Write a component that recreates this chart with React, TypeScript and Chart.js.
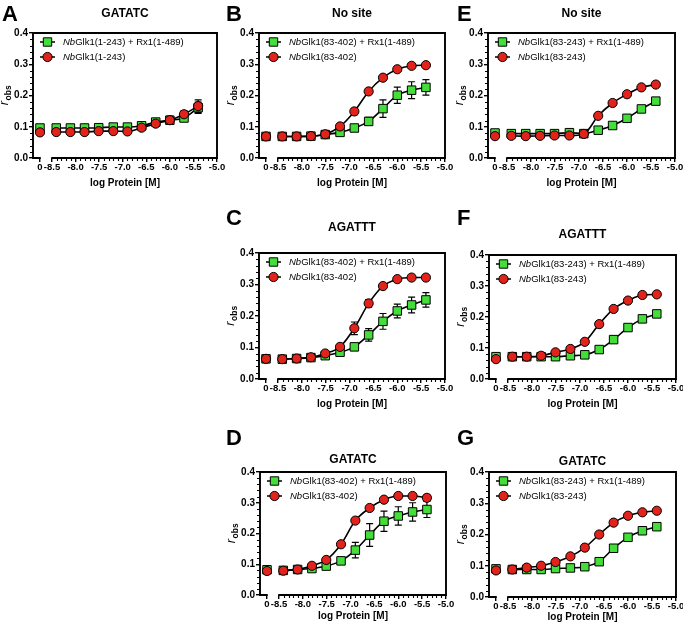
import React, { useEffect, useRef } from "react";
import { Chart, registerables } from "chart.js";

Chart.register(...registerables);

const FONT = "Arial, 'Liberation Sans', Helvetica, sans-serif";
const GREEN = "#44de3a";
const RED = "#e2231c";

// x values: log protein concentration (2-fold dilutions), plus the no-protein point at 0
const logProtein = [-8.41, -8.11, -7.81, -7.51, -7.2, -6.9, -6.6, -6.3, -6.0, -5.7, -5.4];
const zeroProtein = 0;
const xTickValues = [-8.5, -8.0, -7.5, -7.0, -6.5, -6.0, -5.5, -5.0];
const yTickValues = [0, 0.1, 0.2, 0.3, 0.4];

// Panel A — GATATC, NbGlk1(1-243)
const aGreen = [0.096, 0.096, 0.096, 0.097, 0.099, 0.099, 0.103, 0.115, 0.121, 0.128, 0.161];
const aGreenErr = [0.003, 0.003, 0.003, 0.003, 0.003, 0.003, 0.004, 0.006, 0.01, 0.01, 0.018];
const aRed = [0.083, 0.083, 0.083, 0.086, 0.086, 0.085, 0.097, 0.11, 0.121, 0.14, 0.166];
const aRedErr = [0.003, 0.003, 0.003, 0.003, 0.003, 0.003, 0.004, 0.008, 0.012, 0.012, 0.02];
const aZero = [0.096, 0.082]; // [green, red]

// Panel B — No site, NbGlk1(83-402)
const bGreen = [0.069, 0.069, 0.07, 0.075, 0.082, 0.096, 0.117, 0.158, 0.201, 0.217, 0.226];
const bGreenErr = [0.003, 0.003, 0.003, 0.004, 0.005, 0.006, 0.013, 0.028, 0.026, 0.027, 0.025];
const bRed = [0.069, 0.069, 0.07, 0.076, 0.101, 0.149, 0.213, 0.257, 0.284, 0.295, 0.297];
const bRedErr = [0.003, 0.003, 0.003, 0.004, 0.006, 0.01, 0.008, 0.005, 0.004, 0.004, 0.004];
const bZero = [0.069, 0.069];

// Panel C — AGATTT, NbGlk1(83-402)
const cGreen = [0.063, 0.065, 0.068, 0.074, 0.085, 0.102, 0.14, 0.183, 0.216, 0.235, 0.251];
const cGreenErr = [0.003, 0.003, 0.003, 0.004, 0.005, 0.008, 0.02, 0.025, 0.022, 0.025, 0.023];
const cRed = [0.063, 0.065, 0.069, 0.081, 0.102, 0.161, 0.24, 0.295, 0.317, 0.322, 0.322];
const cRedErr = [0.003, 0.003, 0.003, 0.004, 0.006, 0.02, 0.012, 0.006, 0.004, 0.003, 0.003];
const cZero = [0.064, 0.064];

// Panel D — GATATC, NbGlk1(83-402)
const dGreen = [0.08, 0.083, 0.086, 0.094, 0.111, 0.146, 0.195, 0.24, 0.257, 0.27, 0.278];
const dGreenErr = [0.003, 0.004, 0.005, 0.006, 0.008, 0.025, 0.037, 0.033, 0.03, 0.03, 0.026];
const dRed = [0.079, 0.083, 0.095, 0.114, 0.165, 0.242, 0.283, 0.31, 0.322, 0.322, 0.316];
const dRedErr = [0.003, 0.003, 0.004, 0.005, 0.006, 0.006, 0.006, 0.005, 0.004, 0.004, 0.01];
const dZero = [0.082, 0.078];

// Panel E — No site, NbGlk1(83-243)
const eGreen = [0.078, 0.078, 0.078, 0.078, 0.081, 0.078, 0.089, 0.104, 0.127, 0.157, 0.182];
const eGreenErr = [0.003, 0.003, 0.003, 0.003, 0.003, 0.003, 0.004, 0.004, 0.005, 0.007, 0.008];
const eRed = [0.071, 0.07, 0.071, 0.072, 0.072, 0.077, 0.135, 0.176, 0.204, 0.226, 0.235];
const eRedErr = [0.003, 0.003, 0.003, 0.003, 0.003, 0.003, 0.004, 0.004, 0.004, 0.004, 0.004];
const eZero = [0.08, 0.07];

// Panel F — AGATTT, NbGlk1(83-243)
const fGreen = [0.072, 0.072, 0.072, 0.072, 0.075, 0.078, 0.095, 0.127, 0.166, 0.194, 0.21];
const fGreenErr = [0.003, 0.003, 0.003, 0.003, 0.003, 0.003, 0.004, 0.004, 0.005, 0.005, 0.005];
const fRed = [0.072, 0.072, 0.075, 0.086, 0.097, 0.12, 0.177, 0.226, 0.253, 0.271, 0.273];
const fRedErr = [0.003, 0.003, 0.003, 0.003, 0.003, 0.004, 0.005, 0.005, 0.004, 0.004, 0.004];
const fZero = [0.072, 0.064];

// Panel G — GATATC, NbGlk1(83-243)
const gGreen = [0.088, 0.088, 0.088, 0.091, 0.093, 0.097, 0.113, 0.156, 0.191, 0.212, 0.225];
const gGreenErr = [0.003, 0.003, 0.003, 0.003, 0.003, 0.003, 0.004, 0.005, 0.005, 0.005, 0.005];
const gRed = [0.088, 0.094, 0.1, 0.112, 0.13, 0.158, 0.2, 0.238, 0.26, 0.271, 0.276];
const gRedErr = [0.003, 0.003, 0.003, 0.003, 0.004, 0.004, 0.005, 0.005, 0.004, 0.004, 0.004];
const gZero = [0.09, 0.085];

const panelLetters = ["A", "B", "C", "D", "E", "F", "G"];
const panelTitles = ["GATATC", "No site", "AGATTT", "GATATC", "No site", "AGATTT", "GATATC"];
const greenLabels = [
  "NbGlk1(1-243) + Rx1(1-489)",
  "NbGlk1(83-402) + Rx1(1-489)",
  "NbGlk1(83-402) + Rx1(1-489)",
  "NbGlk1(83-402) + Rx1(1-489)",
  "NbGlk1(83-243) + Rx1(1-489)",
  "NbGlk1(83-243) + Rx1(1-489)",
  "NbGlk1(83-243) + Rx1(1-489)",
];
const redLabels = [
  "NbGlk1(1-243)",
  "NbGlk1(83-402)",
  "NbGlk1(83-402)",
  "NbGlk1(83-402)",
  "NbGlk1(83-243)",
  "NbGlk1(83-243)",
  "NbGlk1(83-243)",
];
const greenSeries = [aGreen, bGreen, cGreen, dGreen, eGreen, fGreen, gGreen];
const greenErrs = [aGreenErr, bGreenErr, cGreenErr, dGreenErr, eGreenErr, fGreenErr, gGreenErr];
const redSeries = [aRed, bRed, cRed, dRed, eRed, fRed, gRed];
const redErrs = [aRedErr, bRedErr, cRedErr, dRedErr, eRedErr, fRedErr, gRedErr];
const zeroSeries = [aZero, bZero, cZero, dZero, eZero, fZero, gZero];

// Layout (page pixels): canvas box and plot box
type Box = { cx: number; cy: number; w: number; h: number; L: number; R: number; T: number; B: number; titleY: number; letterY: number; xTitleY: number };
const layoutBoxes: Box[] = [
  { cx: 0, cy: 0, w: 228, h: 200, L: 33, R: 217, T: 33, B: 158, titleY: 14, letterY: 21, xTitleY: 183 },
  { cx: 224, cy: 0, w: 231, h: 200, L: 259, R: 445, T: 33, B: 158, titleY: 14, letterY: 21, xTitleY: 183 },
  { cx: 224, cy: 200, w: 231, h: 210, L: 259, R: 445, T: 253, B: 379, titleY: 228, letterY: 225, xTitleY: 404 },
  { cx: 224, cy: 410, w: 231, h: 216, L: 260, R: 446, T: 472, B: 595, titleY: 460, letterY: 445, xTitleY: 616 },
  { cx: 455, cy: 0, w: 228, h: 200, L: 488, R: 675, T: 33, B: 158, titleY: 14, letterY: 21, xTitleY: 183 },
  { cx: 455, cy: 200, w: 228, h: 210, L: 489, R: 676, T: 255, B: 379, titleY: 235, letterY: 225, xTitleY: 404 },
  { cx: 455, cy: 410, w: 228, h: 216, L: 489, R: 676, T: 472, B: 597, titleY: 462, letterY: 445, xTitleY: 617 },
];

const X_AXIS_H = 17;
const ZERO_SEG = 19;

function drawMarker(ctx: CanvasRenderingContext2D, style: string, x: number, y: number, color: string) {
  ctx.beginPath();
  if (style === "rect") ctx.rect(x - 4.2, y - 4.2, 8.4, 8.4);
  else ctx.arc(x, y, 4.6, 0, Math.PI * 2);
  ctx.fillStyle = color;
  ctx.fill();
  ctx.lineWidth = 1;
  ctx.strokeStyle = "#000";
  ctx.stroke();
}

const decor = {
  id: "decor",
  beforeDatasetsDraw(chart: any) {
    const ctx = chart.ctx;
    const ys = chart.scales.y;
    ctx.save();
    ctx.strokeStyle = "#000";
    ctx.lineWidth = 1.2;
    chart.data.datasets.forEach((ds: any) => {
      if (!ds.errs) return;
      const xs = chart.scales[ds.xAxisID];
      ds.data.forEach((p: any, j: number) => {
        const e = ds.errs[j];
        if (!e) return;
        const px = xs.getPixelForValue(p.x);
        const y1 = ys.getPixelForValue(p.y + e);
        const y2 = ys.getPixelForValue(p.y - e);
        ctx.beginPath();
        ctx.moveTo(px, y1);
        ctx.lineTo(px, y2);
        ctx.moveTo(px - 3.5, y1);
        ctx.lineTo(px + 3.5, y1);
        ctx.moveTo(px - 3.5, y2);
        ctx.lineTo(px + 3.5, y2);
        ctx.stroke();
      });
    });
    ctx.restore();
  },
  afterDraw(chart: any, _args: any, o: any) {
    const { ctx, chartArea: a } = chart;
    const xs = chart.scales.x;
    const xz = chart.scales.xz;
    const ys = chart.scales.y;
    ctx.save();
    // frame
    ctx.strokeStyle = "#000";
    ctx.lineWidth = 1.9;
    ctx.lineJoin = "miter";
    ctx.beginPath();
    ctx.moveTo(a.left, a.bottom + 0.95);
    ctx.lineTo(a.left, a.top);
    ctx.lineTo(a.right, a.top);
    ctx.lineTo(a.right, a.bottom + 0.95);
    ctx.stroke();
    ctx.beginPath();
    ctx.moveTo(a.left - 0.95, a.bottom);
    ctx.lineTo(xz.getPixelForValue(zeroProtein) + 0.75, a.bottom);
    ctx.moveTo(xs.getPixelForValue(xTickValues[0]) - 0.75, a.bottom);
    ctx.lineTo(a.right + 0.95, a.bottom);
    ctx.stroke();
    // minor ticks
    ctx.lineWidth = 1.1;
    ctx.beginPath();
    for (let k = 1; k < 20; k++) {
      if (k % 5 === 0) continue;
      const py = Math.round(ys.getPixelForValue(k * 0.02)) + 0.5;
      ctx.moveTo(a.left, py);
      ctx.lineTo(a.left - 3, py);
    }
    for (let k = 1; k < 35; k++) {
      if (k % 5 === 0) continue;
      const px = Math.round(xs.getPixelForValue(xTickValues[0] + k * 0.1)) + 0.5;
      ctx.moveTo(px, a.bottom);
      ctx.lineTo(px, a.bottom + 3);
    }
    ctx.stroke();

    // legend
    const legendSets = chart.data.datasets.filter((d: any) => d.xAxisID === "x");
    const order = [...legendSets].sort((p: any, q: any) => p.legendRank - q.legendRank);
    order.forEach((ds: any, i: number) => {
      const ly = a.top + 9 + i * 15;
      ctx.strokeStyle = "#000";
      ctx.lineWidth = 1.5;
      ctx.beginPath();
      ctx.moveTo(a.left + 7, ly);
      ctx.lineTo(a.left + 22, ly);
      ctx.stroke();
      drawMarker(ctx, ds.pointStyle, a.left + 14.5, ly, ds.pointBackgroundColor);
      let tx = a.left + 30;
      const label: string = ds.label;
      ctx.fillStyle = "#000";
      ctx.textBaseline = "middle";
      ctx.textAlign = "left";
      ctx.font = `italic 9.5px ${FONT}`;
      ctx.fillText(label.slice(0, 2), tx, ly);
      tx += ctx.measureText(label.slice(0, 2)).width;
      ctx.font = `9.5px ${FONT}`;
      ctx.fillText(label.slice(2), tx, ly);
    });

    // panel title
    ctx.fillStyle = "#000";
    ctx.textAlign = "center";
    ctx.textBaseline = "middle";
    ctx.font = `bold 12px ${FONT}`;
    ctx.fillText(o.title, (a.left + a.right) / 2, o.titleY);
    // letter
    ctx.textAlign = "left";
    ctx.textBaseline = "alphabetic";
    ctx.font = `bold 22px ${FONT}`;
    ctx.fillText(o.letter, o.letterX, o.letterY);
    // x title
    ctx.textAlign = "center";
    ctx.textBaseline = "middle";
    ctx.font = `bold 10px ${FONT}`;
    ctx.fillText("log Protein [M]", (a.left + a.right) / 2, o.xTitleY);
    // y title r_obs
    ctx.translate(a.left - 27, (a.top + a.bottom) / 2);
    ctx.rotate(-Math.PI / 2);
    ctx.font = `italic 13px ${FONT}`;
    const wr = ctx.measureText("r").width;
    ctx.font = `bold 8.5px ${FONT}`;
    const wo = ctx.measureText("obs").width;
    const start = -(wr + wo) / 2;
    ctx.textAlign = "left";
    ctx.textBaseline = "alphabetic";
    ctx.font = `italic 13px ${FONT}`;
    ctx.fillText("r", start, 2);
    ctx.font = `bold 8.5px ${FONT}`;
    ctx.fillText("obs", start + wr + 0.5, 5);
    ctx.restore();
  },
};

function makeConfig(i: number): any {
  const b = layoutBoxes[i];
  const yw = b.L - b.cx;
  const padTop = b.T - b.cy;
  const padRight = b.cx + b.w - b.R;
  const padBottom = b.cy + b.h - b.B - X_AXIS_H;
  const mainW = b.R - b.L - ZERO_SEG;

  const pts = (ys: number[]) => ys.map((y, j) => ({ x: logProtein[j], y }));
  const common = {
    borderColor: "#000",
    borderWidth: 1.6,
    pointBorderColor: "#000",
    pointBorderWidth: 1,
    fill: false,
    yAxisID: "y",
    clip: false,
  };
  const greenStyle = { pointStyle: "rect", pointRadius: 6, pointBackgroundColor: GREEN, backgroundColor: GREEN };
  const redStyle = { pointStyle: "circle", pointRadius: 4.6, pointBackgroundColor: RED, backgroundColor: RED };

  const datasets = [
    {
      ...common, ...redStyle, label: redLabels[i], legendRank: 1, xAxisID: "x",
      data: pts(redSeries[i]), errs: redErrs[i], tension: 0.4, cubicInterpolationMode: "monotone", order: 0,
    },
    {
      ...common, ...redStyle, label: redLabels[i] + " (no protein)", xAxisID: "xz", showLine: false,
      data: [{ x: zeroProtein, y: zeroSeries[i][1] }], order: 1,
    },
    {
      ...common, ...greenStyle, label: greenLabels[i], legendRank: 0, xAxisID: "x",
      data: pts(greenSeries[i]), errs: greenErrs[i], tension: 0.4, cubicInterpolationMode: "monotone", order: 2,
    },
    {
      ...common, ...greenStyle, label: greenLabels[i] + " (no protein)", xAxisID: "xz", showLine: false,
      data: [{ x: zeroProtein, y: zeroSeries[i][0] }], order: 3,
    },
  ];

  const tickFont = { family: FONT, size: 9.5, weight: "bold" as const };
  const gridTicks = { drawOnChartArea: false, drawTicks: true, tickLength: 4, color: "#000", lineWidth: 1.4 };

  return {
    type: "line",
    data: { datasets },
    plugins: [decor],
    options: {
      responsive: false,
      animation: false,
      devicePixelRatio: 1,
      events: [],
      layout: { padding: { top: padTop, right: padRight, bottom: padBottom, left: 0 } },
      plugins: {
        legend: { display: false },
        tooltip: { enabled: false },
        title: { display: false },
        decor: {
          title: panelTitles[i],
          letter: panelLetters[i],
          titleY: b.titleY - b.cy,
          letterY: b.letterY - b.cy,
          letterX: 2,
          xTitleY: b.xTitleY - b.cy,
        },
      },
      scales: {
        xz: {
          type: "linear",
          position: "bottom",
          stack: "xstack",
          stackWeight: ZERO_SEG,
          min: -1,
          max: 1.714,
          afterBuildTicks: (s: any) => {
            s.ticks = [{ value: zeroProtein }];
          },
          afterFit: (s: any) => {
            s.height = X_AXIS_H;
            s.paddingLeft = 0;
            s.paddingRight = 0;
          },
          border: { display: false },
          grid: gridTicks,
          ticks: { font: tickFont, color: "#000", padding: 0, maxRotation: 0, autoSkip: false, callback: () => "0" },
        },
        x: {
          type: "linear",
          position: "bottom",
          stack: "xstack",
          stackWeight: mainW,
          min: xTickValues[0],
          max: xTickValues[xTickValues.length - 1],
          afterBuildTicks: (s: any) => {
            s.ticks = xTickValues.map((v) => ({ value: v }));
          },
          afterFit: (s: any) => {
            s.height = X_AXIS_H;
            s.paddingLeft = 0;
            s.paddingRight = 0;
          },
          border: { display: false },
          grid: gridTicks,
          ticks: {
            font: tickFont, color: "#000", padding: 0, maxRotation: 0, autoSkip: false,
            callback: (v: any) => Number(v).toFixed(1),
          },
        },
        y: {
          type: "linear",
          position: "left",
          min: 0,
          max: 0.4,
          afterBuildTicks: (s: any) => {
            s.ticks = yTickValues.map((v) => ({ value: v }));
          },
          afterFit: (s: any) => {
            s.width = yw;
            s.paddingTop = 0;
            s.paddingBottom = 0;
          },
          border: { display: false },
          grid: gridTicks,
          ticks: {
            font: { family: FONT, size: 10, weight: "bold" as const }, color: "#000", padding: 1,
            callback: (v: any) => Number(v).toFixed(1),
          },
        },
      },
    },
  };
}

function Panel({ index }: { index: number }) {
  const ref = useRef<HTMLCanvasElement>(null);
  const b = layoutBoxes[index];
  useEffect(() => {
    const chart = new Chart(ref.current as HTMLCanvasElement, makeConfig(index));
    return () => chart.destroy();
  }, [index]);
  return (
    <canvas
      ref={ref}
      width={b.w}
      height={b.h}
      style={{ position: "absolute", left: b.cx, top: b.cy, width: b.w, height: b.h }}
    />
  );
}

export default function App() {
  return (
    <div style={{ position: "absolute", left: 0, top: 0, width: 683, height: 626, background: "#fff", overflow: "hidden" }}>
      {layoutBoxes.map((_, i) => (
        <Panel key={i} index={i} />
      ))}
    </div>
  );
}
